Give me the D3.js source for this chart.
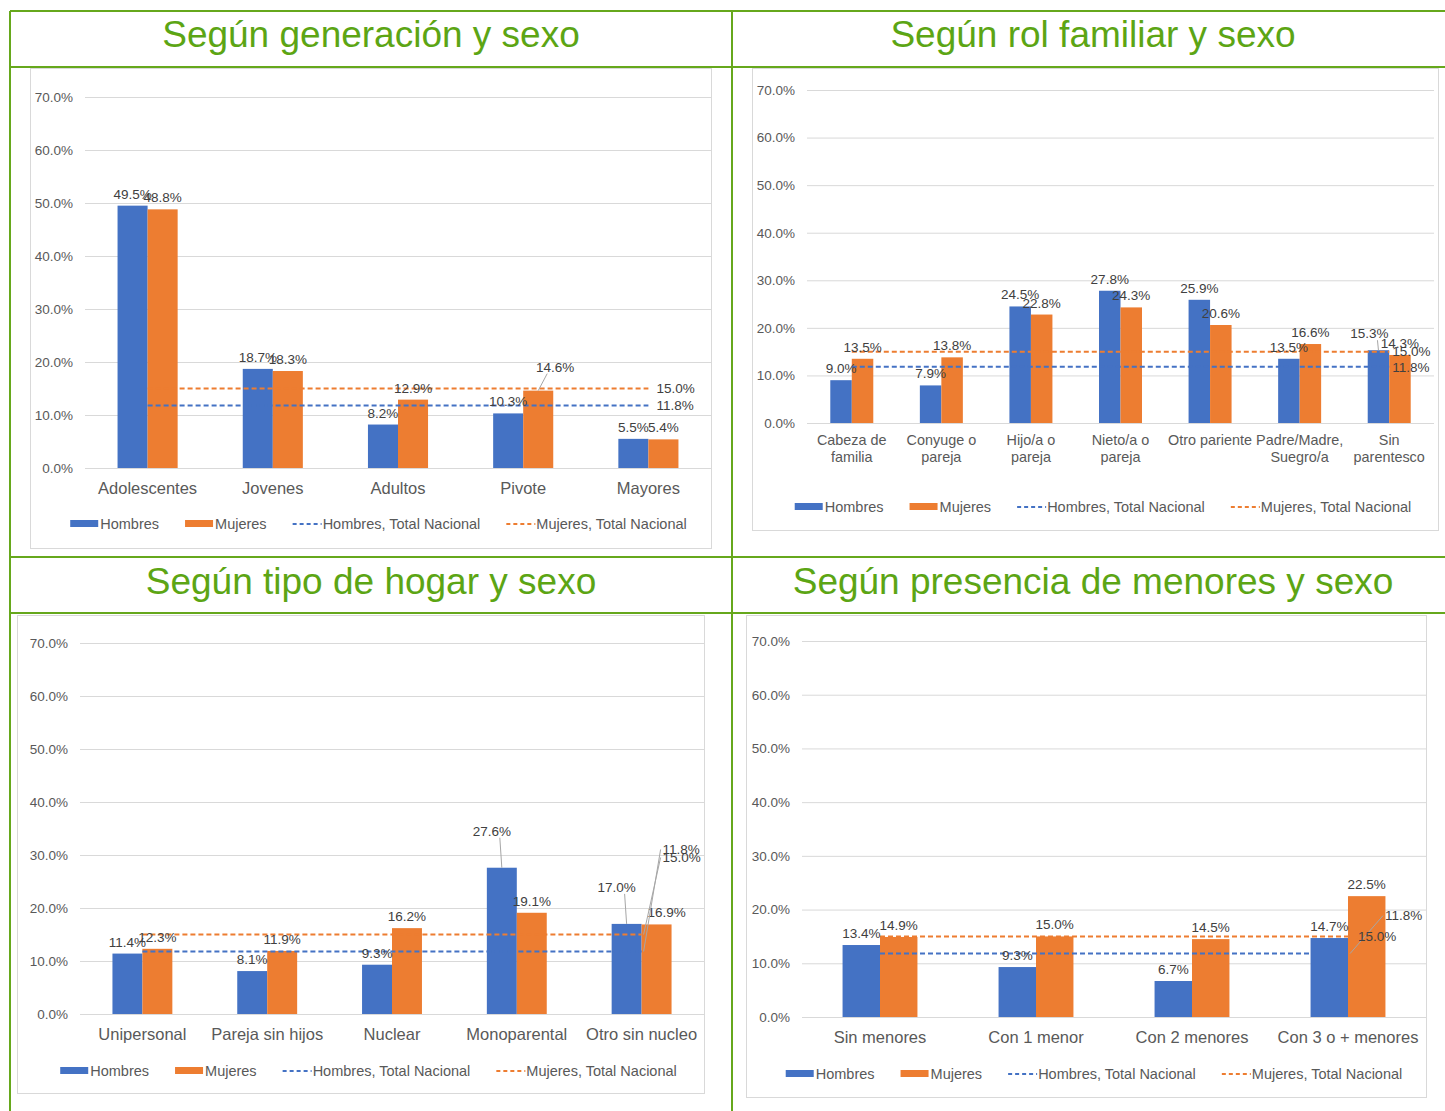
<!DOCTYPE html>
<html>
<head>
<meta charset="utf-8">
<script src="https://d3js.org/d3.v7.min.js"></script>
<style>
  body { margin: 0; background: #fff; }
  svg { display: block; font-family: "Liberation Sans", Arial, sans-serif; }
</style>
</head>
<body>
<svg id="chart" width="1445" height="1111"></svg>
<script>
// ---- data ----
const yTicks = [0, 10, 20, 30, 40, 50, 60, 70];
const totalHombres = 11.8;
const totalMujeres = 15.0;
const seriesNames = ['Hombres', 'Mujeres', 'Hombres, Total Nacional', 'Mujeres, Total Nacional'];

const genTitle = 'Según generación y sexo';
const genCats = ['Adolescentes', 'Jovenes', 'Adultos', 'Pivote', 'Mayores'];
const genHombres = [49.5, 18.7, 8.2, 10.3, 5.5];
const genMujeres = [48.8, 18.3, 12.9, 14.6, 5.4];

const rolTitle = 'Según rol familiar y sexo';
const rolCats = ['Cabeza de\nfamilia', 'Conyuge o\npareja', 'Hijo/a o\npareja', 'Nieto/a o\npareja', 'Otro pariente', 'Padre/Madre,\nSuegro/a', 'Sin\nparentesco'];
const rolHombres = [9.0, 7.9, 24.5, 27.8, 25.9, 13.5, 15.3];
const rolMujeres = [13.5, 13.8, 22.8, 24.3, 20.6, 16.6, 14.3];

const hogTitle = 'Según tipo de hogar y sexo';
const hogCats = ['Unipersonal', 'Pareja sin hijos', 'Nuclear', 'Monoparental', 'Otro sin nucleo'];
const hogHombres = [11.4, 8.1, 9.3, 27.6, 17.0];
const hogMujeres = [12.3, 11.9, 16.2, 19.1, 16.9];

const menTitle = 'Según presencia de menores y sexo';
const menCats = ['Sin menores', 'Con 1 menor', 'Con 2 menores', 'Con 3 o + menores'];
const menHombres = [13.4, 9.3, 6.7, 14.7];
const menMujeres = [14.9, 15.0, 14.5, 22.5];

// ---- styles ----
const BLUE = '#4472C4', ORANGE = '#ED7D31';
const GREEN = '#66a81c', GREEN_TEXT = '#5ca514';
const GRID = '#d9d9d9', AXIS_TEXT = '#595959', LABEL_TEXT = '#404040';

const svg = d3.select('#chart');

// table frame
const frame = svg.append('g').attr('stroke', GREEN).attr('stroke-width', 2);
[[10, 11, 1445, 11], [10, 67, 1445, 67], [10, 557, 1445, 557], [10, 613, 1445, 613],
 [10, 11, 10, 1111], [732, 11, 732, 1111]].forEach(l => {
  frame.append('line').attr('x1', l[0]).attr('y1', l[1]).attr('x2', l[2]).attr('y2', l[3]);
});

// panels: layout for each chart
const panels = [
  { title: genTitle, titleX: 371, titleY: 47, cats: genCats, h: genHombres, m: genMujeres,
    box: [30, 68, 711, 548], plotX: [85, 711], y0: 468, y70: 97, catY: 494, catSize: 16.5,
    legY: 524, nudge: { 'm3': [17, -12, true] },
    refLab: { h: [8, 0], m: [8, 0] } },
  { title: rolTitle, titleX: 1093, titleY: 47, cats: rolCats, h: rolHombres, m: rolMujeres,
    box: [752, 68, 1438, 530], plotX: [807, 1434], y0: 423, y70: 90, catY: 445, catSize: 14.4,
    legY: 507, nudge: { 'h6': [-9, -5, true] },
    refLab: { h: [3, 0], m: [3, 0] } },
  { title: hogTitle, titleX: 371, titleY: 594, cats: hogCats, h: hogHombres, m: hogMujeres,
    box: [17, 615, 704, 1093], plotX: [80, 704], y0: 1014, y70: 643, catY: 1040, catSize: 16.5,
    legY: 1071, nudge: { 'h3': [-10, -25, true], 'h4': [-10, -25, true], 'm4': [10, 0, false] },
    refLab: { h: [21, -102, true], m: [21, -77, true] } },
  { title: menTitle, titleX: 1093, titleY: 594, cats: menCats, h: menHombres, m: menMujeres,
    box: [746, 615, 1426, 1097], plotX: [802, 1426], y0: 1017, y70: 641, catY: 1043, catSize: 16.5,
    legY: 1074, nudge: {},
    refLab: { h: [37, -38, true], m: [10, 0] } }
];

const fmt = v => v.toFixed(1) + '%';

panels.forEach(p => {
  // header title
  svg.append('text')
    .attr('x', p.titleX).attr('y', p.titleY)
    .attr('text-anchor', 'middle')
    .attr('font-size', 37)
    .attr('fill', GREEN_TEXT)
    .text(p.title);

  const g = svg.append('g');
  const [bx0, by0, bx1, by1] = p.box;

  // chart box
  g.append('rect')
    .attr('x', bx0 + 0.5).attr('y', by0 + 0.5)
    .attr('width', bx1 - bx0).attr('height', by1 - by0)
    .attr('fill', '#fff').attr('stroke', GRID);

  const x = d3.scaleBand().domain(p.cats).range(p.plotX);
  const y = d3.scaleLinear().domain([0, 70]).range([p.y0, p.y70]);
  const bw = x.bandwidth();
  const sub = d3.scaleBand().domain(['h', 'm']).range([-0.24 * bw, 0.24 * bw]);
  const cx = c => x(c) + bw / 2;

  // gridlines + y tick labels
  const yAxis = d3.axisLeft(y).tickValues(yTicks).tickFormat(d => d.toFixed(1) + '%')
    .tickSize(-(p.plotX[1] - p.plotX[0])).tickPadding(12);
  const ax = g.append('g').attr('transform', `translate(${p.plotX[0]},0)`).call(yAxis);
  ax.select('.domain').remove();
  ax.selectAll('.tick line').attr('stroke', GRID);
  ax.selectAll('.tick text').attr('fill', AXIS_TEXT).attr('font-size', 13.5)
    .attr('font-family', '"Liberation Sans", Arial, sans-serif');

  // bars
  const rows = p.cats.map((c, i) => ({ c, i, h: p.h[i], m: p.m[i] }));
  ['h', 'm'].forEach(k => {
    g.selectAll('.bar-' + k).data(rows).enter().append('rect')
      .attr('x', d => cx(d.c) + sub(k))
      .attr('y', d => y(d[k]))
      .attr('width', sub.bandwidth())
      .attr('height', d => y(0) - y(d[k]))
      .attr('fill', k === 'h' ? BLUE : ORANGE);
  });

  // national total reference lines (over bars)
  const xStart = cx(p.cats[0]), xEnd = cx(p.cats[p.cats.length - 1]);
  [['h', totalHombres, BLUE], ['m', totalMujeres, ORANGE]].forEach(([k, v, col]) => {
    g.append('line')
      .attr('x1', xStart).attr('x2', xEnd)
      .attr('y1', y(v)).attr('y2', y(v))
      .attr('stroke', col).attr('stroke-width', 2).attr('stroke-dasharray', '5,3');
  });

  // data labels
  ['h', 'm'].forEach(k => {
    rows.forEach(d => {
      const bx = cx(d.c) + sub(k) + sub.bandwidth() / 2;
      const top = y(d[k]);
      const n = p.nudge[k + d.i] || [0, 0, false];
      const lx = bx + n[0], ly = top - 7 + n[1];
      if (n[2]) {
        g.append('line').attr('x1', lx + (n[0] < 0 ? 8 : -8)).attr('y1', ly + 2)
          .attr('x2', bx).attr('y2', top).attr('stroke', '#a6a6a6');
      }
      g.append('text').attr('x', lx).attr('y', ly)
        .attr('text-anchor', 'middle').attr('font-size', 13.5).attr('fill', LABEL_TEXT)
        .text(fmt(d[k]));
    });
  });

  // reference labels
  [['h', totalHombres], ['m', totalMujeres]].forEach(([k, v]) => {
    const r = p.refLab[k];
    const lx = xEnd + r[0], ly = y(v) + r[1];
    if (r[2]) {
      g.append('line').attr('x1', xEnd + 2).attr('y1', y(v))
        .attr('x2', lx - 2).attr('y2', ly).attr('stroke', '#a6a6a6');
    }
    g.append('text').attr('x', lx).attr('y', ly).attr('dy', '0.35em')
      .attr('font-size', 13.5).attr('fill', LABEL_TEXT).text(fmt(v));
  });

  // category labels
  rows.forEach(d => {
    const lines = d.c.split('\n');
    const t = g.append('text').attr('x', cx(d.c)).attr('y', p.catY)
      .attr('text-anchor', 'middle').attr('font-size', p.catSize).attr('fill', AXIS_TEXT);
    lines.forEach((ln, j) => {
      t.append('tspan').attr('x', cx(d.c)).attr('dy', j === 0 ? 0 : 17).text(ln);
    });
  });

  // legend
  const leg = g.append('g');
  let pos = 0;
  const items = [];
  seriesNames.forEach((name, i) => {
    const it = leg.append('g');
    const col = i % 2 === 0 ? BLUE : ORANGE;
    if (i < 2) {
      it.append('rect').attr('x', 0).attr('y', -4).attr('width', 28).attr('height', 7).attr('fill', col);
    } else {
      it.append('line').attr('x1', 0).attr('x2', 29).attr('y1', 0).attr('y2', 0)
        .attr('stroke', col).attr('stroke-width', 2).attr('stroke-dasharray', '4,3');
    }
    const t = it.append('text').attr('x', 30).attr('dy', '0.35em')
      .attr('font-size', 14.5).attr('fill', AXIS_TEXT).text(name);
    const w = 30 + t.node().getComputedTextLength();
    it.attr('transform', `translate(${pos},0)`);
    pos += w + 26;
  });
  const total = pos - 26;
  const center = (bx0 + bx1) / 2 + 8;
  leg.attr('transform', `translate(${center - total / 2},${p.legY})`);
});
</script>
</body>
</html>
